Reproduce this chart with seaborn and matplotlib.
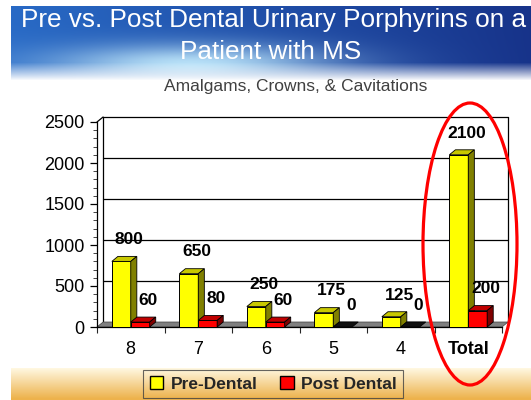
import numpy as np
import pandas as pd
import matplotlib
matplotlib.use("Agg")
import matplotlib.pyplot as plt
from matplotlib.patches import Polygon, Patch, Ellipse, Rectangle
from matplotlib.ticker import MultipleLocator
import seaborn as sns

# data
categories = ["8", "7", "6", "5", "4", "Total"]
pre_dental = [800, 650, 250, 175, 125, 2100]
post_dental = [60, 80, 60, 0, 0, 200]
series_names = ["Pre-Dental", "Post Dental"]

df = pd.DataFrame({
    "cat": categories * 2,
    "value": pre_dental + post_dental,
    "series": [series_names[0]] * len(categories) + [series_names[1]] * len(categories),
})

sns.set_theme(style="white")
plt.rcParams["font.family"] = ["Liberation Sans", "DejaVu Sans"]

W, H = 531, 400
fig = plt.figure(figsize=(W / 100, H / 100), dpi=100)

# slide background: blue header, white body, golden strip at the bottom
yy, xx = np.mgrid[0:H, 0:W].astype(float)
img = np.ones((H, W, 3))
t = (xx / W)[..., None]
left_c = np.array([0.16, 0.42, 0.78])
right_c = np.array([0.09, 0.20, 0.54])
head = left_c * (1 - t) + right_c * t
blob = np.exp(-((xx - 190) / 140) ** 2 - ((yy - 64) / 20) ** 2)[..., None]
head = head * (1 - blob) + np.array([0.72, 0.88, 0.97]) * blob
fade = np.clip((yy - 62) / 18, 0, 1)[..., None]
head = head * (1 - fade) + 1.0 * fade
img = np.where((yy >= 6)[..., None] & (yy < 82)[..., None], head, img)
f = np.clip((yy - 368) / 30, 0, 1)[..., None]
gold = np.array([1.0, 0.97, 0.88]) * (1 - f) + np.array([0.93, 0.70, 0.30]) * f
img = np.where((yy >= 368)[..., None], gold, img)
img[:, :11] = 1.0
img[:6] = 1.0
bg = fig.add_axes([0, 0, 1, 1], zorder=-10)
bg.imshow(img, aspect="auto", interpolation="bilinear")
bg.axis("off")

fig.text(0.516, 1 - 20 / H, "Pre vs. Post Dental Urinary Porphyrins on a",
         ha="center", va="center", color="white", fontsize=18.8)
fig.text(0.51, 1 - 52 / H, "Patient with MS",
         ha="center", va="center", color="white", fontsize=18.8)
fig.text(296 / W, 1 - 86 / H, "Amalgams, Crowns, & Cavitations",
         ha="center", va="center", color="#404040", fontsize=12.5)

ax = fig.add_axes([97 / W, 73 / H, 405 / W, 205 / H])
ax.set_facecolor("none")

yellow, red = "#FFFF00", "#FF0000"
shade = {yellow: ("#C8C800", "#808000"), red: ("#C00000", "#800000")}

sns.barplot(data=df, x="cat", y="value", hue="series", palette=[yellow, red],
            width=0.56, edgecolor="black", linewidth=0.7, legend=False,
            saturation=1, ax=ax)

ax.set_xlim(-0.5, 5.5)
ax.set_ylim(0, 2500)
DX, DY = 0.09, 61

# 3d faces and value labels
bars = [p for p in ax.patches if isinstance(p, Rectangle)]
bars = sorted(bars, key=lambda p: p.get_x())
for i, p in enumerate(bars):
    fc = matplotlib.colors.to_hex(p.get_facecolor()).upper()
    if fc not in shade:
        continue
    bx, w, h = p.get_x(), p.get_width(), p.get_height()
    z = 3 + i * 0.01
    p.set_zorder(z)
    top_c, side_c = shade[fc]
    if h == 0:
        top_c = "#101010"
    ax.add_patch(Polygon([(bx, h), (bx + w, h), (bx + w + DX, h + DY), (bx + DX, h + DY)],
                         closed=True, facecolor=top_c, edgecolor="black", lw=0.6,
                         clip_on=False, zorder=z))
    if h > 0:
        ax.add_patch(Polygon([(bx + w, 0), (bx + w + DX, DY), (bx + w + DX, h + DY), (bx + w, h)],
                             closed=True, facecolor=side_c, edgecolor="black", lw=0.6,
                             clip_on=False, zorder=z))
    ax.text(bx + w / 2 + 0.12, h + 265, f"{h:.0f}", ha="center", va="center",
            fontsize=12.5, fontweight="bold", color="black", zorder=10, clip_on=False)

# back wall, gridlines and floor
x0, x1 = -0.5, 5.5
for v in range(500, 2501, 500):
    ax.plot([x0 + DX, x1 + DX], [v + DY, v + DY], color="black", lw=0.9,
            clip_on=False, zorder=1)
ax.plot([x0 + DX, x0 + DX], [DY, 2500 + DY], color="black", lw=0.9, clip_on=False, zorder=1)
ax.plot([x1 + DX, x1 + DX], [DY, 2500 + DY], color="black", lw=0.9, clip_on=False, zorder=1)
ax.plot([x0, x0 + DX], [2500, 2500 + DY], color="black", lw=0.9, clip_on=False, zorder=1)
ax.add_patch(Polygon([(x0, 0), (x1, 0), (x1 + DX, DY), (x0 + DX, DY)], closed=True,
                     facecolor="#808080", edgecolor="#404040", lw=0.5,
                     clip_on=False, zorder=1.5))

# axes styling
for s in ["top", "right"]:
    ax.spines[s].set_visible(False)
ax.spines["left"].set_color("black")
ax.spines["bottom"].set_color("black")
ax.spines["left"].set_linewidth(0.9)
ax.spines["bottom"].set_linewidth(0.9)
ax.yaxis.set_major_locator(MultipleLocator(500))
ax.yaxis.set_minor_locator(MultipleLocator(100))
ax.set_xticks(range(len(categories)))
ax.set_xticks([k + 0.5 for k in range(-1, len(categories))], minor=True)
ax.tick_params(axis="y", which="major", direction="out", length=5, width=0.9,
               labelsize=13, pad=4, left=True, colors="black")
ax.tick_params(axis="y", which="minor", direction="out", length=3, width=0.6, left=True)
ax.tick_params(axis="x", which="major", length=0, labelsize=13, pad=10, colors="black")
ax.tick_params(axis="x", which="minor", direction="out", length=4, width=0.8, bottom=True)
ax.set_xticklabels(categories)
ax.get_xticklabels()[-1].set_fontweight("bold")
ax.set_xlabel("")
ax.set_ylabel("")

leg = fig.legend(handles=[Patch(facecolor=yellow, edgecolor="black", label=series_names[0]),
                          Patch(facecolor=red, edgecolor="black", label=series_names[1])],
                 loc="center", bbox_to_anchor=(273 / W, 1 - 384 / H), ncol=2,
                 prop={"weight": "bold", "size": 12.5}, handlelength=0.8, handleheight=0.8,
                 handletextpad=0.4, columnspacing=1.3, borderpad=0.35, fancybox=False)
leg.get_frame().set_facecolor("none")
leg.get_frame().set_edgecolor("#404040")
leg.get_frame().set_linewidth(0.8)

fig.add_artist(Ellipse((470 / W, 1 - 244 / H), 94 / W, 282 / H, transform=fig.transFigure,
                       fill=False, edgecolor="#FF0000", lw=2.3, zorder=20))

fig.savefig("out.png", dpi=100)
